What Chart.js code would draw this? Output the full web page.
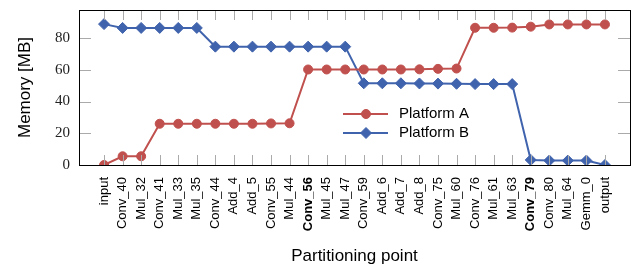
<!DOCTYPE html>
<html>
<head>
<meta charset="utf-8">
<script src="https://cdn.jsdelivr.net/npm/chart.js@4"></script>
<style>
  html, body { margin: 0; padding: 0; background: #fff; }
  .wrap { width: 641px; height: 269px; }
</style>
</head>
<body>
<div class="wrap"><canvas id="myChart" width="641" height="269"></canvas></div>
<script>
const labels = ['input', 'Conv_40', 'Mul_32', 'Conv_41', 'Mul_33', 'Mul_35', 'Conv_44', 'Add_4', 'Add_5', 'Conv_55',
  'Mul_44', 'Conv_56', 'Mul_45', 'Mul_47', 'Conv_59', 'Add_6', 'Add_7', 'Add_8', 'Conv_75', 'Mul_60',
  'Conv_76', 'Mul_61', 'Mul_63', 'Conv_79', 'Conv_80', 'Mul_64', 'Gemm_0', 'output']
const boldLabels = ['Conv_56', 'Conv_79']
const platformA = [0, 5.5, 5.5, 26, 26, 26, 26, 26, 26, 26.2,
  26.3, 60.2, 60.2, 60.2, 60.2, 60.2, 60.2, 60.3, 60.6, 60.8,
  86.5, 86.5, 86.6, 87.2, 88.6, 88.6, 88.6, 88.6]
const platformB = [88.8, 86.4, 86.4, 86.4, 86.4, 86.4, 74.6, 74.6, 74.6, 74.6,
  74.6, 74.6, 74.6, 74.6, 51.5, 51.5, 51.5, 51.4, 51.3, 51.2,
  51, 51, 51, 3.2, 2.8, 2.8, 2.8, 0]
const yTicks = [0, 20, 40, 60, 80]

const red = '#c0504d'
const blue = '#4063ad'
const ctx = document.getElementById('myChart').getContext('2d')

// box + inside tick marks like pgfplots
const frame = {
  id: 'frame',
  afterDatasetsDraw(chart) {
    const { ctx, chartArea: a, scales } = chart
    ctx.save()
    ctx.strokeStyle = '#aaa'
    ctx.lineWidth = 1
    ctx.beginPath()
    labels.forEach((l, i) => {
      const x = Math.round(scales.x.getPixelForValue(i)) + 0.5
      ctx.moveTo(x, a.top); ctx.lineTo(x, a.top + 10)
      ctx.moveTo(x, a.bottom); ctx.lineTo(x, a.bottom - 10)
    })
    yTicks.forEach(v => {
      const y = Math.round(scales.y.getPixelForValue(v)) + 0.5
      ctx.moveTo(a.left, y); ctx.lineTo(a.left + 12, y)
      ctx.moveTo(a.right, y); ctx.lineTo(a.right - 12, y)
    })
    ctx.stroke()
    ctx.strokeStyle = '#000'
    ctx.strokeRect(Math.round(a.left) + 0.5, Math.round(a.top) + 0.5,
      Math.round(a.right - a.left), Math.round(a.bottom - a.top))
    ctx.restore()
  }
}

// legend inside the plot, line + marker
const innerLegend = {
  id: 'innerLegend',
  afterDraw(chart) {
    const { ctx } = chart
    const items = [
      { text: 'Platform A', color: red, style: 'circle', r: 4.5, y: 114 },
      { text: 'Platform B', color: blue, style: 'rectRot', r: 5.5, y: 133 }
    ]
    ctx.save()
    items.forEach(it => {
      ctx.strokeStyle = it.color
      ctx.fillStyle = it.color
      ctx.lineWidth = 2
      ctx.beginPath()
      ctx.moveTo(343, it.y); ctx.lineTo(388, it.y)
      ctx.stroke()
      ctx.lineWidth = 1
      Chart.helpers.drawPoint(ctx, { pointStyle: it.style, radius: it.r, borderWidth: 1 }, 366, it.y)
      ctx.fillStyle = '#000'
      ctx.font = '15px "Liberation Sans", Arial, sans-serif'
      ctx.textBaseline = 'middle'
      ctx.fillText(it.text, 399, it.y)
    })
    ctx.restore()
  }
}

const config = {
  type: 'line',
  data: {
    datasets: [{
      label: 'Platform A',
      data: platformA.map((v, i) => ({ x: i, y: v })),
      borderColor: red,
      backgroundColor: red,
      pointStyle: 'circle',
      radius: 4.5,
      borderWidth: 2,
      pointBorderWidth: 1,
      tension: 0
    }, {
      label: 'Platform B',
      data: platformB.map((v, i) => ({ x: i, y: v })),
      borderColor: blue,
      backgroundColor: blue,
      pointStyle: 'rectRot',
      radius: 5.5,
      borderWidth: 2,
      pointBorderWidth: 1,
      tension: 0
    }]
  },
  options: {
    responsive: false,
    animation: false,
    layout: { padding: { left: 0, right: 11, top: 4, bottom: 0 } },
    plugins: {
      legend: { display: false },
      tooltip: { enabled: false }
    },
    scales: {
      x: {
        type: 'linear',
        min: -1.35,
        max: 28.35,
        afterBuildTicks: (scale) => {
          scale.ticks = labels.map((l, i) => ({ value: i }))
        },
        afterFit: (scale) => { scale.height = 104 },
        grid: { display: false },
        border: { display: false },
        ticks: {
          autoSkip: false,
          minRotation: 90,
          maxRotation: 90,
          padding: 4,
          color: '#000',
          font: (c) => ({
            family: '"Liberation Sans", Arial, sans-serif',
            size: 13,
            weight: boldLabels.includes(labels[c.index]) ? 'bold' : 'normal'
          }),
          callback: (value) => labels[value]
        },
        title: {
          display: true,
          text: 'Partitioning point',
          color: '#000',
          font: { family: '"Liberation Sans", Arial, sans-serif', size: 17 },
          padding: { top: 0, bottom: 2 }
        }
      },
      y: {
        min: 0,
        max: 97.7,
        afterBuildTicks: (scale) => {
          scale.ticks = yTicks.map(v => ({ value: v }))
        },
        afterFit: (scale) => { scale.width = 79 },
        grid: { display: false },
        border: { display: false },
        ticks: {
          padding: 1,
          color: '#222',
          font: { family: '"Liberation Serif", serif', size: 15 }
        },
        title: {
          display: true,
          text: 'Memory [MB]',
          color: '#000',
          font: { family: '"Liberation Sans", Arial, sans-serif', size: 17 },
          padding: { top: 15, bottom: 6 }
        }
      }
    }
  },
  plugins: [frame, innerLegend]
}

window.ctx = new Chart(ctx, config)
</script>
</body>
</html>
